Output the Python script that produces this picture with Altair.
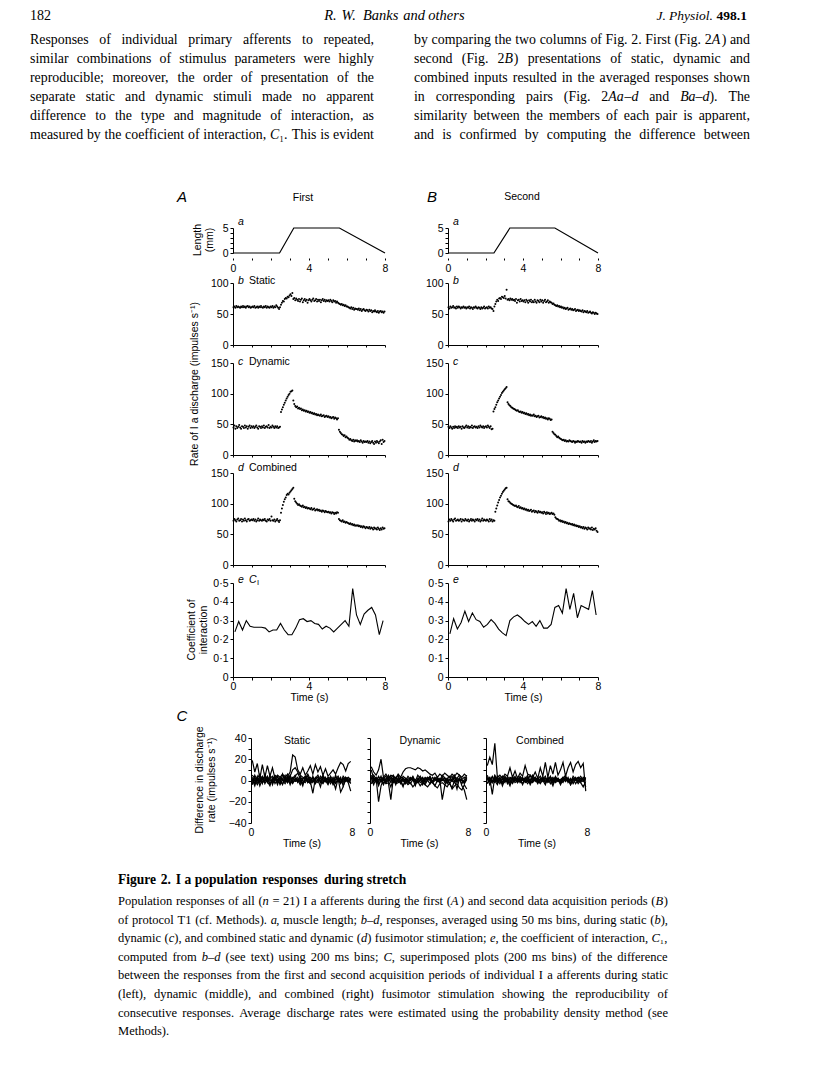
import json
import altair as alt
import pandas as pd

# ------------------------------------------------------------------ values
# a: muscle length (mm)
len_t_A = [0, 2.45, 3.2, 5.6, 8]
len_t_B = [0, 2.45, 3.3, 5.7, 8]
len_mm = [0, 0, 5, 5, 0]

# b-d: rate of Ia discharge (impulses/s), 50 ms bins over 0-8 s (160 bins)
static_first = [
    61, 62, 60, 63, 61, 62, 61, 60, 62, 61,
    63, 61, 62, 60, 62, 63, 61, 62, 60, 61,
    62, 61, 63, 60, 61, 62, 60, 62, 61, 63,
    61, 60, 62, 61, 63, 60, 62, 61, 60, 62,
    61, 63, 60, 62, 61, 64, 62, 60, 58, 61,
    65, 68, 71, 70, 74, 76, 75, 78, 77, 80,
    82, 79, 84, 74, 76, 72, 75, 73, 71, 74,
    70, 73, 75, 69, 72, 74, 71, 73, 68, 72,
    74, 72, 70, 73, 75, 71, 72, 74, 70, 73,
    71, 73, 69, 72, 74, 71, 73, 70, 72, 71,
    72, 70, 73, 71, 69, 72, 70, 71, 68, 70,
    68, 67, 66, 65, 66, 64, 65, 63, 64, 62,
    62, 61, 60, 59, 61, 58, 60, 57, 59, 58,
    58, 57, 59, 56, 58, 55, 57, 58, 56, 55,
    57, 56, 54, 57, 55, 56, 53, 55, 54, 56,
    54, 53, 55, 52, 54, 55, 53, 54, 52, 54]
static_second = [
    61, 59, 62, 60, 61, 63, 60, 61, 59, 62,
    60, 62, 61, 59, 61, 60, 62, 60, 61, 59,
    61, 60, 62, 59, 61, 60, 58, 61, 60, 62,
    60, 59, 61, 60, 58, 61, 59, 60, 62, 59,
    60, 61, 59, 62, 60, 61, 59, 58, 55, 62,
    66, 70, 73, 71, 75, 76, 74, 78, 77, 76,
    79, 75, 89, 73, 74, 72, 75, 73, 74, 72,
    73, 71, 74, 68, 72, 73, 70, 74, 71, 72,
    70, 72, 69, 73, 71, 68, 72, 70, 73, 69,
    71, 69, 73, 70, 68, 72, 71, 69, 73, 70,
    72, 68, 71, 73, 69, 70, 72, 68, 70, 69,
    68, 66, 67, 65, 64, 63, 64, 62, 63, 61,
    62, 60, 61, 59, 60, 58, 59, 60, 57, 58,
    59, 57, 58, 56, 57, 58, 55, 56, 57, 55,
    56, 55, 54, 56, 53, 55, 54, 53, 55, 52,
    53, 54, 52, 51, 53, 52, 50, 52, 51, 50]
dynamic_first = [
    45, 48, 43, 47, 44, 46, 49, 45, 43, 47,
    46, 44, 48, 45, 47, 43, 46, 48, 44, 47,
    45, 47, 44, 46, 48, 45, 43, 47, 46, 44,
    47, 45, 48, 44, 46, 47, 45, 49, 44, 46,
    45, 48, 46, 44, 47, 45, 47, 44, 45, 46,
    70, 74, 78, 82, 85, 89, 92, 95, 98, 100,
    103, 104, 105, 89, 83, 80, 78, 79, 76, 77,
    75, 76, 73, 74, 72, 73, 71, 72, 70, 71,
    69, 70, 68, 69, 67, 68, 66, 67, 65, 66,
    65, 64, 66, 63, 64, 65, 62, 63, 64, 62,
    63, 61, 62, 60, 61, 62, 59, 61, 60, 58,
    60, 41, 38, 36, 34, 33, 31, 32, 29, 30,
    28, 27, 25, 26, 24, 23, 25, 22, 24, 23,
    24, 22, 23, 21, 24, 22, 20, 23, 21, 22,
    21, 23, 20, 22, 19, 21, 23, 20, 18, 22,
    20, 23, 21, 19, 22, 24, 18, 25, 21, 23]
dynamic_second = [
    46, 44, 47, 45, 43, 46, 44, 47, 45, 46,
    44, 47, 45, 46, 43, 47, 45, 44, 46, 48,
    45, 47, 44, 46, 45, 48, 44, 46, 47, 45,
    46, 44, 47, 45, 48, 46, 45, 47, 44, 46,
    47, 45, 48, 46, 44, 47, 42, 43, 71, 75,
    78, 82, 86, 89, 92, 95, 98, 101, 103, 105,
    107, 109, 111, 86, 83, 81, 80, 78, 77, 76,
    75, 74, 73, 72, 73, 71, 70, 71, 69, 70,
    68, 69, 67, 68, 66, 67, 65, 66, 64, 65,
    64, 66, 63, 64, 62, 63, 64, 61, 62, 63,
    61, 62, 60, 61, 59, 60, 58, 60, 59, 57,
    58, 38, 36, 34, 33, 31, 29, 30, 28, 27,
    26, 25, 24, 25, 23, 24, 22, 23, 22, 24,
    23, 22, 21, 23, 22, 20, 22, 21, 23, 22,
    21, 22, 20, 23, 21, 22, 20, 22, 21, 23,
    22, 21, 23, 20, 22, 24, 21, 23, 22, 23]
combined_first = [
    72, 75, 73, 71, 74, 76, 72, 73, 75, 71,
    74, 72, 76, 73, 71, 74, 75, 72, 73, 74,
    73, 75, 72, 74, 71, 73, 76, 72, 74, 73,
    72, 74, 73, 75, 72, 71, 74, 73, 75, 72,
    79, 73, 72, 74, 71, 73, 75, 72, 70, 73,
    85, 92, 98, 103, 107, 110, 114, 116, 115, 118,
    120, 122, 124, 126, 108, 104, 102, 100, 98, 99,
    97, 96, 95, 97, 94, 95, 93, 94, 92, 93,
    92, 91, 93, 90, 91, 92, 89, 90, 91, 89,
    90, 88, 89, 87, 89, 88, 86, 88, 87, 86,
    87, 85, 86, 84, 86, 85, 83, 85, 84, 86,
    85, 75, 73, 72, 71, 73, 70, 71, 69, 70,
    69, 68, 67, 68, 66, 67, 65, 66, 64, 65,
    64, 65, 63, 64, 62, 63, 61, 63, 62, 60,
    62, 61, 60, 62, 59, 61, 60, 58, 61, 59,
    60, 58, 61, 59, 57, 60, 58, 61, 59, 60]
combined_second = [
    71, 74, 72, 75, 73, 71, 74, 76, 72, 73,
    74, 72, 73, 75, 71, 74, 73, 72, 75, 73,
    72, 74, 71, 73, 75, 72, 74, 73, 71, 74,
    73, 75, 72, 74, 71, 73, 76, 72, 74, 73,
    72, 74, 73, 71, 75, 72, 74, 71, 73, 72,
    87, 92, 97, 102, 106, 110, 113, 116, 119, 121,
    123, 125, 126, 107, 104, 103, 101, 100, 99, 98,
    97, 96, 97, 95, 94, 96, 93, 94, 92, 93,
    91, 92, 90, 91, 89, 90, 88, 89, 90, 87,
    88, 89, 86, 88, 87, 85, 88, 86, 87, 85,
    86, 84, 87, 85, 83, 86, 84, 85, 83, 84,
    85, 83, 84, 82, 78, 76, 75, 74, 72, 73,
    71, 72, 70, 71, 69, 70, 68, 69, 67, 68,
    67, 66, 67, 65, 66, 64, 65, 63, 64, 62,
    63, 61, 62, 60, 62, 59, 61, 60, 58, 61,
    59, 60, 58, 61, 57, 59, 58, 60, 56, 54]

# e: coefficient of interaction, 200 ms bins (40 bins)
ci_first = [0.24, 0.295, 0.25, 0.30, 0.27, 0.265, 0.265, 0.265, 0.26, 0.24,
            0.25, 0.25, 0.285, 0.25, 0.225, 0.225, 0.26, 0.305, 0.31, 0.295,
            0.30, 0.285, 0.28, 0.255, 0.27, 0.26, 0.24, 0.26, 0.28, 0.30,
            0.27, 0.47, 0.33, 0.28, 0.335, 0.355, 0.37, 0.33, 0.225, 0.30]
ci_second = [0.23, 0.31, 0.255, 0.29, 0.35, 0.295, 0.34, 0.305, 0.295, 0.265,
             0.28, 0.305, 0.285, 0.255, 0.235, 0.22, 0.30, 0.32, 0.33, 0.315,
             0.295, 0.28, 0.295, 0.27, 0.30, 0.26, 0.26, 0.28, 0.37, 0.38,
             0.34, 0.47, 0.36, 0.445, 0.315, 0.38, 0.37, 0.36, 0.46, 0.33]

# C: first minus second response of individual afferents (impulses/s), 200 ms bins
diff_static = {
    's1': [19, 8, 16, 2, 15, 3, 14, 4, 12, 2, 5, 3, 6, 2, 4, 8, 24, 22, 10, 6,
           12, 5, 9, 14, 6, 15, 8, 13, 5, 11, 4, 7, 10, 6, 12, 17, 15, 9, 16, 18],
    's2': [2, -3, 4, -5, 1, 3, -2, 5, -4, 2, 0, -3, 6, -1, 3, -4, 2, 5, -2, 1,
           -5, 3, 0, -3, 4, -2, 1, -6, 3, 0, -4, 2, -3, 5, -1, 3, -5, 1, -2, -10],
    's3': [-4, 5, 0, 3, -3, 6, -1, -5, 2, 4, -2, 1, -4, 3, 6, -2, 0, 4, 7, 2,
           -3, 1, 4, -1, -12, 2, 3, -2, 5, 1, -3, 4, 0, -8, 2, -2, 4, 1, 3, 0],
    's4': [0, 3, -2, 1, 4, -3, 2, 0, -1, 5, 3, -4, 1, 2, -2, 4, 10, 12, 8, 5,
           3, 2, 6, 1, -2, 3, 0, 2, 4, -1, 2, -3, 1, 3, 0, -2, 2, -1, 3, 1],
    's5': [3, -1, 2, 6, -2, 0, 4, -3, 1, 3, -1, 2, 0, -3, 1, 5, -1, 0, 3, -2,
           2, 4, -2, 1, 3, 0, -2, 4, 1, -1, 3, 2, -4, 1, 2, -11, -6, 2, 0, -3],
    's6': [-2, 1, -4, 0, 2, -1, 3, 1, -2, 0, 4, -1, -3, 2, 0, 3, -2, 1, -1, 4,
           0, -2, 2, -3, 0, 1, 3, -1, -2, 2, 0, -1, 3, -2, 1, -3, 2, 0, -1, 2],
    's7': [5, 2, 1, -2, 3, 1, -1, 2, 4, -3, 1, 0, 2, 5, -2, 1, 3, -1, 0, 2,
           -3, 0, 1, 3, -1, 2, 5, 0, -3, 1, 2, 0, -2, 1, 4, -1, 0, 3, 1, -2],
    's8': [1, -5, 3, 0, -2, 4, 1, -3, 0, 2, -4, 3, 1, -1, 2, 0, -3, 2, 1, -4,
           1, 3, -2, 0, 2, -3, 1, 2, -1, 3, -2, 1, 0, -3, 2, 1, -2, 3, -1, 1],
}
diff_dynamic = {
    'd1': [13, 8, 5, 10, 20, 3, 6, 2, 5, 4, 2, 6, 3, 8, 11, 12, 12, 11, 10, 12,
           11, 9, 10, 8, 6, 5, 7, 3, 6, 4, 7, 5, 3, 6, 4, 7, 5, 3, 6, 4],
    'd2': [3, -4, 2, -20, -5, 1, -3, -2, -18, 2, -4, 3, -1, -6, 2, 0, -3, 1, -5, 2,
           -2, 0, -4, 1, 3, -2, -5, 0, 1, -18, -5, 2, -3, -7, 0, -8, 2, -5, -9, -18],
    'd3': [10, 2, -1, 4, 0, 3, -2, 5, 1, -1, 3, 0, -2, 4, 2, -1, 0, 3, -2, 1,
           4, -1, 2, 0, -3, 3, 1, -1, 2, 0, 3, -2, 1, 4, -1, 0, 2, -3, 1, 5],
    'd4': [-2, 1, 3, -3, 0, 2, -1, 1, 4, -2, 0, 1, -3, 2, 0, -1, 3, 1, -2, 0,
           2, -4, 1, 3, 0, -2, 2, 1, -1, 3, -2, 0, 1, -1, 3, -2, 1, 0, -2, 2],
    'd5': [5, 0, 2, -1, 4, -3, 1, 3, -2, 0, 2, 5, -1, 1, -3, 2, 0, 4, -1, -2,
           1, 3, -2, 0, 2, -1, 3, 0, -2, 1, 0, 2, -3, 1, 5, -1, 2, 0, -1, 3],
    'd6': [0, 3, -2, 1, 0, -4, 2, 1, -1, 3, -2, 0, 2, -1, 1, -3, 2, 0, 1, -2,
           0, 2, -1, 3, 1, -2, 0, 2, -1, 0, 2, -3, 1, 0, -2, 2, 0, 1, -3, 1],
    'd7': [-3, -1, 2, -5, 1, 3, -2, 0, -6, 1, -3, -2, 0, -5, -1, -4, -2, -6, -3, -1,
           -5, -2, -4, -6, -3, -1, -5, -7, -3, -2, -4, -6, -2, -8, -5, -3, -7, -9, -4, -8],
    'd8': [2, 5, 1, 3, -1, 2, 4, 0, 2, 5, 1, -1, 3, 2, 0, 4, 1, 3, -1, 5,
           2, 0, 3, 1, 4, -1, 2, 3, 0, 5, 2, 1, 4, 0, 3, 2, 5, 1, 3, 2],
}
diff_combined = {
    'c1': [14, 22, 15, 35, 3, 5, 2, 6, 4, 12, 3, 9, 2, 7, 4, 14, 6, 5, 3, 8,
           2, 12, 4, 17, 3, 14, 6, 17, 5, 10, 17, 4, 12, 17, 8, 15, 18, 12, 16, -10],
    'c2': [-3, 2, -13, 4, -1, 3, -5, 1, 2, -3, 0, 4, -2, 1, -4, 3, 0, -2, 5, 1,
           -3, 2, 0, -4, 3, 1, -2, 4, 0, -3, 2, -1, 3, -4, 1, 2, -3, 0, 2, -6],
    'c3': [5, -1, 3, 0, -4, 2, 1, -2, 4, 0, -3, 2, 1, -1, 3, -2, 0, 5, -1, 2,
           0, -3, 1, 4, -2, 0, 3, -1, 2, -4, 1, 3, 0, -2, 4, 1, -1, 2, 0, 3],
    'c4': [0, 3, -2, 5, 1, -3, 2, 0, -1, 3, 2, -2, 0, 4, 1, -1, 3, 0, -2, 2,
           1, 4, -1, 0, 2, -3, 1, 3, -1, 0, 2, 5, -2, 1, 0, 3, -1, 2, 1, 0],
    'c5': [-2, 0, 4, -1, 2, 0, -3, 3, 1, -2, 4, 0, -1, 2, -3, 1, 5, -2, 0, 3,
           -1, 1, 2, -2, 0, 4, -3, 1, 2, 0, -2, 3, 1, -4, 2, 0, 3, -2, -6, -1],
    'c6': [2, 1, -1, 3, 0, 2, -2, 4, 0, 1, -2, 3, 1, -1, 2, 0, -3, 1, 3, -1,
           2, 0, 4, -2, 1, 3, 0, -1, 2, -2, 3, 1, -1, 0, 2, -3, 1, 4, 0, 2],
    'c7': [3, -4, 0, 2, -2, 1, 4, -1, 0, -5, 2, 1, -2, 3, 0, -1, 2, -4, 1, 0,
           3, -2, 1, 2, -1, 0, -5, 2, 1, -2, 0, 3, -1, 2, -3, 1, 0, -2, 3, 1],
    'c8': [1, 2, 0, -2, 4, -1, 1, 3, -3, 2, 1, 0, 3, -2, 1, 2, -1, 0, 2, 3,
           -2, 1, 0, 2, -1, 3, 1, -2, 0, 1, 3, -1, 2, 0, -2, 1, 3, 0, -1, 2],
}

# page text
header_left = "182"
header_mid = "*R. W. Banks and others*"
header_right = "*J. Physiol.* #498.1#"
body_left = [
    "Responses of individual primary afferents to repeated,",
    "similar combinations of stimulus parameters were highly",
    "reproducible; moreover, the order of presentation of the",
    "separate static and dynamic stimuli made no apparent",
    "difference to the type and magnitude of interaction, as",
    "measured by the coefficient of interaction, *C*\u2081. This is evident",
]
body_right = [
    "by comparing the two columns of Fig. 2. First (Fig. 2*A*) and",
    "second (Fig. 2*B*) presentations of static, dynamic and",
    "combined inputs resulted in the averaged responses shown",
    "in corresponding pairs (Fig. 2*Aa*\u2013*d* and *Ba*\u2013*d*). The",
    "similarity between the members of each pair is apparent,",
    "and is confirmed by computing the difference between",
]
caption_title = "#Figure 2. I a population responses during stretch#"
caption_lines = [
    "Population responses of all (*n* = 21) I a afferents during the first (*A*) and second data acquisition periods (*B*)",
    "of protocol T1 (cf. Methods). *a*, muscle length; *b*\u2013*d*, responses, averaged using 50 ms bins, during static (*b*),",
    "dynamic (*c*), and combined static and dynamic (*d*) fusimotor stimulation; *e*, the coefficient of interaction, *C*\u2081,",
    "computed from *b*\u2013*d* (see text) using 200 ms bins; *C*, superimposed plots (200 ms bins) of the difference",
    "between the responses from the first and second acquisition periods of individual I a afferents during static",
    "(left), dynamic (middle), and combined (right) fusimotor stimulation showing the reproducibility of",
    "consecutive responses. Average discharge rates were estimated using the probability density method (see",
    "Methods).",
]

for arr in (static_first, static_second, dynamic_first, dynamic_second, combined_first, combined_second):
    assert len(arr) == 160, len(arr)
for d in (diff_static, diff_dynamic, diff_combined):
    for k, v in d.items():
        assert len(v) == 40, (k, len(v))

t50 = [0.025 + 0.05 * i for i in range(160)]   # 50 ms bin centres
t200 = [0.1 + 0.2 * i for i in range(40)]      # 200 ms bin centres

# ------------------------------------------------------------------ layout (page pixels)
W, H = 796, 1062
M = 8
def cx(v): return v - M
def cy(v): return v - M

SANS = "Liberation Sans"
SERIF = "Liberation Serif"
FS = 10.5

colA = (cx(233), cx(385))
colB = (cx(448), cx(598))
rows = {'a': (cy(253), cy(228)), 'b': (cy(345), cy(283)), 'c': (cy(455), cy(363)),
        'd': (cy(565), cy(473)), 'e': (cy(677), cy(583))}
a_axis_y = cy(258)
rowC = (cy(823), cy(738))
colsC = [(cx(251), cx(352)), (cx(370), cx(468)), (cx(486), cx(587))]


def yaxis(x0, values, show, expr="datum.label", labels=True):
    kw = dict(orient='left', offset=-x0, values=values, tickSize=3, domain=True,
              grid=False, title=None, labelPadding=2, labelOverlap=False)
    if labels and show:
        kw['labelExpr'] = f"indexof({json.dumps(show)}, datum.value) >= 0 ? {expr} : ''"
    else:
        kw['labels'] = False
    return alt.Axis(**kw)


def xaxis(y_px, values, show, domain=True, ticks=True, tick_size=2, pad=1, title=None):
    kw = dict(orient='bottom', offset=y_px - H, values=values, domain=domain, ticks=ticks,
              tickSize=tick_size, grid=False, labelPadding=pad, labelOverlap=False, labelFlush=False)
    if show:
        kw['labelExpr'] = f"indexof({json.dumps(show)}, datum.value) >= 0 ? datum.label : ''"
    else:
        kw['labels'] = False
    if title:
        kw['title'] = title
        kw['titlePadding'] = 1
    else:
        kw['title'] = None
    return alt.Axis(**kw)


def xs(x0, x1):
    return alt.Scale(domain=[0, 8], range=[x0, x1], nice=False, zero=False)


def ys(lo, hi, ybot, ytop):
    return alt.Scale(domain=[lo, hi], range=[ybot, ytop], nice=False, zero=False)


layers = []
secs = list(range(9))

for (x0, x1), lt in ((colA, len_t_A), (colB, len_t_B)):
    ybot, ytop = rows['a']
    df = pd.DataFrame({'t': lt, 'mm': len_mm})
    layers.append(alt.Chart(df).mark_line(color='black', strokeWidth=1.2).encode(
        x=alt.X('t:Q', scale=xs(x0, x1), axis=xaxis(a_axis_y, secs, [0, 4, 8], domain=False, tick_size=2, pad=3)),
        y=alt.Y('mm:Q', scale=ys(0, 5, ybot, ytop), axis=yaxis(x0, [0, 1, 2, 3, 4, 5], [0, 5]))))

scatter_sets = [
    (colA, 'b', static_first, 100), (colB, 'b', static_second, 100),
    (colA, 'c', dynamic_first, 150), (colB, 'c', dynamic_second, 150),
    (colA, 'd', combined_first, 150), (colB, 'd', combined_second, 150),
]
for (x0, x1), r, vals, ymax in scatter_sets:
    ybot, ytop = rows[r]
    yv = [0, 50, 100] if ymax == 100 else [0, 50, 100, 150]
    df = pd.DataFrame({'t': t50, 'rate': vals})
    layers.append(alt.Chart(df).mark_circle(size=4, color='black', opacity=1).encode(
        x=alt.X('t:Q', scale=xs(x0, x1), axis=xaxis(ybot, secs, [])),
        y=alt.Y('rate:Q', scale=ys(0, ymax, ybot, ytop), axis=yaxis(x0, yv, yv))))

ci_expr = "datum.value == 0 ? '0' : replace(format(datum.value, '.1f'), '.', '\u00b7')"
civals = [0, 0.1, 0.2, 0.3, 0.4, 0.5]
for (x0, x1), vals in ((colA, ci_first), (colB, ci_second)):
    ybot, ytop = rows['e']
    df = pd.DataFrame({'t': t200, 'ci': vals})
    layers.append(alt.Chart(df).mark_line(color='black', strokeWidth=1.1).encode(
        x=alt.X('t:Q', scale=xs(x0, x1), axis=xaxis(ybot, secs, [0, 4, 8], tick_size=3, pad=1, title='Time (s)')),
        y=alt.Y('ci:Q', scale=ys(0, 0.5, ybot, ytop), axis=yaxis(x0, civals, civals, expr=ci_expr))))

for i, ((x0, x1), traces) in enumerate(zip(colsC, (diff_static, diff_dynamic, diff_combined))):
    recs = []
    for name, vals in traces.items():
        for t, v in zip(t200, vals):
            recs.append({'unit': name, 't': t, 'diff': v})
    df = pd.DataFrame(recs)
    ybot, ytop = rowC
    yv = [-40, -30, -20, -10, 0, 10, 20, 30, 40]
    layers.append(alt.Chart(df).mark_line(color='black', strokeWidth=1.2).encode(
        x=alt.X('t:Q', scale=xs(x0, x1), axis=xaxis(ybot, [0, 8], [0, 8], domain=False, ticks=False, pad=4, title='Time (s)')),
        y=alt.Y('diff:Q', scale=ys(-40, 40, ybot, ytop),
                axis=yaxis(x0, yv, [-40, -20, 0, 20, 40], labels=(i == 0))),
        detail='unit:N'))

# ------------------------------------------------------------------ figure annotations (sans)
ann = []
def A(s, x, y, fs=FS, it=False, al='center', ang=0):
    ann.append(dict(s=s, x=x, y=y, fs=fs, it=it, al=al, ang=ang))

A('A', cx(182), cy(197), 15, True)
A('B', cx(432), cy(197), 15, True)
A('C', cx(182), cy(716), 15, True)
A('First', cx(303), cy(198))
A('Second', cx(522), cy(197))
label_y = {'a': cy(222), 'b': cy(281), 'c': cy(362), 'd': cy(468), 'e': cy(580)}
for (x0, x1) in (colA, colB):
    for r, yy in label_y.items():
        A(r, x0 + 5, yy, FS, True, 'left')
A('Static', colA[0] + 16, label_y['b'], al='left')
A('Dynamic', colA[0] + 16, label_y['c'], al='left')
A('Combined', colA[0] + 16, label_y['d'], al='left')
A('C', colA[0] + 16, label_y['e'], FS, True, 'left')
A('I', colA[0] + 24, label_y['e'] + 3, 7.5, False, 'left')
A('Length\n(mm)', cx(198), cy(240), ang=270)
A('Rate of I a discharge (impulses s\u207b\u00b9)', cx(195), cy(384), ang=270)
A('Coefficient of\ninteraction', cx(192), cy(630), ang=270)
A('Difference in discharge\nrate (impulses s\u207b\u00b9)', cx(200), cy(780), ang=270)
A('Static', cx(297), cy(741))
A('Dynamic', cx(420), cy(741))
A('Combined', cx(540), cy(741))

ann_df = pd.DataFrame(ann)
for it in (False, True):
    for al in ('left', 'center'):
        sub = ann_df[(ann_df.it == it) & (ann_df.al == al)]
        if sub.empty:
            continue
        layers.append(alt.Chart(sub).mark_text(
            font=SANS, fontStyle='italic' if it else 'normal', align=al, baseline='middle',
            color='black', lineBreak='\n', lineHeight=12).encode(
            x=alt.X('x:Q', scale=None, axis=None), y=alt.Y('y:Q', scale=None, axis=None),
            text='s:N', size=alt.Size('fs:Q', scale=None, legend=None),
            angle=alt.Angle('ang:Q', scale=None, legend=None)))

# ------------------------------------------------------------------ page text (serif, justified)
TW = {' ': 250, '!': 333, '(': 333, ')': 333, ',': 250, '-': 333, '.': 250, ':': 278, ';': 278,
      '=': 564, '\u2013': 500, '\u2081': 400, "'": 333,
      'A': 722, 'B': 667, 'C': 667, 'D': 722, 'E': 611, 'F': 556, 'G': 722, 'H': 722, 'I': 333,
      'J': 389, 'K': 722, 'L': 611, 'M': 889, 'N': 722, 'O': 722, 'P': 556, 'Q': 722, 'R': 667,
      'S': 556, 'T': 611, 'U': 722, 'V': 722, 'W': 944, 'X': 722, 'Y': 722, 'Z': 611,
      'a': 444, 'b': 500, 'c': 444, 'd': 500, 'e': 444, 'f': 333, 'g': 500, 'h': 500, 'i': 278,
      'j': 278, 'k': 500, 'l': 278, 'm': 778, 'n': 500, 'o': 500, 'p': 500, 'q': 500, 'r': 333,
      's': 389, 't': 278, 'u': 500, 'v': 500, 'w': 722, 'x': 500, 'y': 500, 'z': 444}


def units(s, bold=False):
    u = sum(TW.get(c, 500) for c in s)
    return u * (1.1 if bold else 1.0)


def parse_line(line):
    words, segs, cur, it, bd = [], [], '', False, False
    for ch in line:
        if ch in '*#':
            if cur:
                segs.append((cur, it, bd)); cur = ''
            if ch == '*':
                it = not it
            else:
                bd = not bd
        elif ch == ' ':
            if cur:
                segs.append((cur, it, bd)); cur = ''
            if segs:
                words.append(segs); segs = []
        else:
            cur += ch
    if cur:
        segs.append((cur, it, bd))
    if segs:
        words.append(segs)
    return words


def natural_units(line):
    words = parse_line(line)
    return sum(units(s, b) for w in words for s, _, b in w) + 250 * (len(words) - 1)


texts = []
def set_line(line, x0, x1, y, fs, mode='justify'):
    words = parse_line(line)
    widths = [sum(units(s, b) for s, _, b in w) * fs / 1000 for w in words]
    space = 280 * fs / 1000
    natural = sum(widths) + space * (len(words) - 1)
    gap = space
    x = x0
    if mode == 'justify' and len(words) > 1:
        gap = (x1 - x0 - sum(widths)) / (len(words) - 1)
    elif mode == 'right':
        x = x1 - natural
    elif mode == 'center':
        x = (x0 + x1) / 2 - natural / 2
    for w in words:
        for s, it, bd in w:
            texts.append(dict(s=s, x=x, y=y, fs=fs, it=it, bd=bd))
            x += units(s, bd) * fs / 1000
        x += gap


hy = cy(16)
set_line(header_left, cx(30), cx(30), hy, 14, 'left')
set_line(header_mid, cx(394), cx(394), hy, 14.5, 'center')
set_line(header_right, cx(750), cx(750), hy, 13.5, 'right')

L0, L1, R0, R1 = cx(30), cx(374), cx(414), cx(750)
fs_body = min(14.5, 0.995 * min(min((L1 - L0) * 1000 / natural_units(l) for l in body_left),
                                min((R1 - R0) * 1000 / natural_units(l) for l in body_right)))
for i, line in enumerate(body_left):
    set_line(line, L0, L1, cy(40) + 19 * i, fs_body)
for i, line in enumerate(body_right):
    set_line(line, R0, R1, cy(40) + 19 * i, fs_body)

C0, C1 = cx(118), cx(668)
fs_cap = min(13, 0.995 * min((C1 - C0) * 1000 / natural_units(l) for l in caption_lines[:-1]))
set_line(caption_title, C0, C1, cy(880), fs_cap * 1.08, 'left')
for i, line in enumerate(caption_lines):
    set_line(line, C0, C1, cy(901) + 18.6 * i, fs_cap,
             'left' if i == len(caption_lines) - 1 else 'justify')

tdf = pd.DataFrame(texts)
for it in (False, True):
    for bd in (False, True):
        sub = tdf[(tdf.it == it) & (tdf.bd == bd)]
        if sub.empty:
            continue
        layers.append(alt.Chart(sub).mark_text(
            font=SERIF, fontStyle='italic' if it else 'normal', fontWeight='bold' if bd else 'normal',
            align='left', baseline='middle', color='black').encode(
            x=alt.X('x:Q', scale=None, axis=None), y=alt.Y('y:Q', scale=None, axis=None),
            text='s:N', size=alt.Size('fs:Q', scale=None, legend=None)))

chart = alt.layer(*layers).resolve_scale(x='independent', y='independent').properties(
    width=W, height=H, padding=0, background='white',
    autosize=alt.AutoSizeParams(type='none')
).configure_axis(
    labelFont=SANS, labelFontSize=FS, labelColor='black', domainColor='black', tickColor='black',
    domainWidth=1, tickWidth=1, titleFont=SANS, titleFontSize=FS, titleColor='black',
    titleFontWeight='normal'
).configure_view(stroke=None)

chart.save("out.html", embed_options={"renderer": "svg", "actions": False})
